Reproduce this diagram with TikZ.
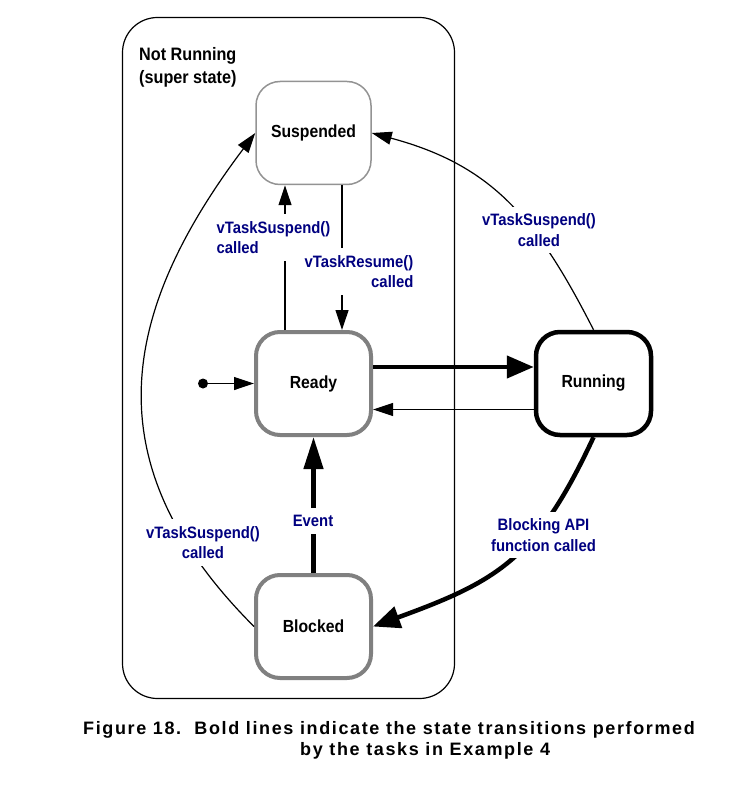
\documentclass[tikz,border=0pt]{standalone}
\usepackage{fontspec}
\setmainfont{Liberation Sans}
\newfontfamily\zufont{Liberation Sans}[FakeStretch=0.9]
\newfontfamily\capfont{Liberation Sans}[LetterSpace=9]
\usetikzlibrary{arrows.meta}

\definecolor{lblblue}{RGB}{0,0,128}
\definecolor{stgray}{RGB}{128,128,128}

\tikzset{
  state/.style={rounded corners=24pt, minimum width=115pt, minimum height=103pt,
    fill=white, font=\zufont\bfseries\fontsize{17.5}{21}\selectfont},
  lbl/.style={fill=white, text=lblblue, inner xsep=3pt, inner ysep=7pt,
    font=\zufont\bfseries\fontsize{16.5}{20.5}\selectfont},
  thinarrow/.style={line width=1.2pt, -{Triangle[length=20pt,width=13pt]}},
  boldarrow/.style={line width=4.5pt, -{Triangle[length=27pt,width=22pt]}}
}

\begin{document}
\begin{tikzpicture}[x=1pt,y=1pt]
                \useasboundingbox (0,0) rectangle (729,-791);

                % 上位状態の枠
                \node[draw, line width=1.2pt, rounded corners=35pt,
                  minimum width=332pt, minimum height=681pt] (notrun) at (288.5,-358) {};
                \node[anchor=north west, inner sep=0pt, align=left,
                  font=\zufont\bfseries\fontsize{18}{23.5}\selectfont] (notrunlbl) at (139,-47)
                  {Not Running\\(super state)};

                % 4つの状態
                \node[state, draw=stgray!85, line width=1.5pt] (sus) at (313.5,-133) {Suspended};
                \node[state, draw=stgray, line width=4pt] (rdy) at (313.5,-383.5) {Ready};
                \node[state, draw=black, line width=4.5pt] (run) at (593.5,-383.5) {Running};
                \node[state, draw=stgray, line width=4pt] (blk) at (313.5,-626.5) {Blocked};

                % 初期状態
                \node[circle, fill, inner sep=0pt, minimum size=10pt] (init) at (203,-383.5) {};
                \draw[thinarrow] (init) -- (rdy);

                % Ready と Running の間
                \draw[boldarrow] ([yshift=16.5pt]rdy.east) -- ([yshift=16.5pt]run.west);
                \draw[thinarrow] ([yshift=-26pt]run.west) -- ([yshift=-26pt]rdy.east);

                % Ready と Suspended の間
                \draw[thinarrow] ([xshift=-28.5pt]rdy.north) -- ([xshift=-28.5pt]sus.south);
                \draw[thinarrow] ([xshift=28.5pt]sus.south) -- ([xshift=28.5pt]rdy.north);

                % Blocked から Ready へ
                \draw[boldarrow, -{Triangle[length=32pt,width=19pt]}] (blk) -- (rdy);

                % 曲線の遷移
                \draw[boldarrow] (run.south) to[out=245, in=20, looseness=1.18] (blk.east);
                \draw[thinarrow] (run.north) to[out=117, in=345, looseness=1.08] (sus.east);
                \draw[thinarrow] (blk.west) to[out=135, in=233, looseness=1.18] (sus.west);

                % 遷移のラベル
                \node[lbl, align=left] (lsusrdy) at (273.5,-237.5) {vTaskSuspend()\\called};
                \node[lbl, align=right] (lres) at (359,-271.5) {vTaskResume()\\called};
                \node[lbl, align=center] (lsusrun) at (539,-230) {vTaskSuspend()\\called};
                \node[lbl, align=center] (lsusblk) at (203,-542.5) {vTaskSuspend()\\called};
                \node[lbl] (levt) at (313,-521) {Event};
                \node[lbl, align=center] (lblock) at (543.5,-535) {Blocking API\\function called};

                % 図のキャプション
                \node[anchor=base west, inner sep=0pt,
                  font=\capfont\bfseries\fontsize{18}{21}\selectfont] (cap1) at (83,-734)
                  {Figure 18.\ \ Bold lines indicate the state transitions performed};
                \node[anchor=base west, inner sep=0pt,
                  font=\capfont\bfseries\fontsize{18}{21}\selectfont] (cap2) at (300,-755)
                  {by the tasks in Example 4};
            \end{tikzpicture}
\end{document}
